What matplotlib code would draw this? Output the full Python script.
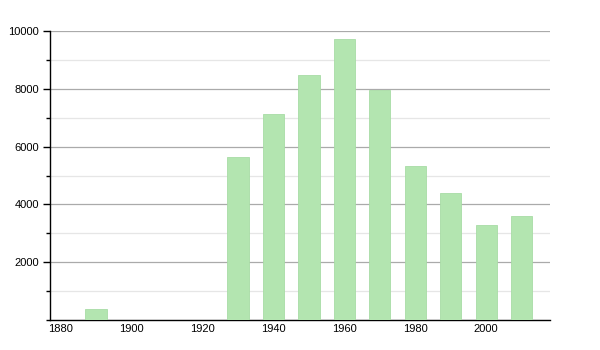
import matplotlib
matplotlib.use("Agg")
import matplotlib.pyplot as plt
from matplotlib.ticker import MultipleLocator

# population by census year
years = [1890, 1930, 1940, 1950, 1960, 1970, 1980, 1990, 2000, 2010]
population = [380, 5640, 7130, 8480, 9720, 7960, 5330, 4390, 3290, 3600]

y_ticks = [2000, 4000, 6000, 8000, 10000]
x_ticks = [1880, 1900, 1920, 1940, 1960, 1980, 2000]

plt.rcParams['font.family'] = ['Liberation Sans', 'DejaVu Sans']

fig = plt.figure(figsize=(6, 3.5), dpi=100)
ax = fig.add_axes([50 / 600, 30 / 350, 500 / 600, 289 / 350])

ax.bar(years, population, width=6, color='#b3e5b0', edgecolor='#a8dca5',
       linewidth=0.6, zorder=3)

ax.set_xlim(1877, 2018)
ax.set_ylim(0, 10000)

ax.set_yticks(y_ticks)
ax.set_yticklabels([str(v) for v in y_ticks])
ax.yaxis.set_minor_locator(MultipleLocator(1000))
ax.set_xticks(x_ticks)
ax.set_xticklabels([str(v) for v in x_ticks])

ax.grid(axis='y', which='major', color='#aaaaaa', linewidth=0.9, zorder=0)
ax.grid(axis='y', which='minor', color='#e6e6e6', linewidth=0.9, zorder=0)

for side in ('top', 'right'):
    ax.spines[side].set_visible(False)
ax.spines['left'].set_linewidth(1.0)
ax.spines['bottom'].set_linewidth(1.0)

ax.tick_params(axis='y', which='major', length=5, width=1, labelsize=8, pad=3)
ax.tick_params(axis='y', which='minor', length=3, width=1)
ax.tick_params(axis='x', length=0, labelsize=8, pad=3)

fig.savefig('out.png', dpi=100)
